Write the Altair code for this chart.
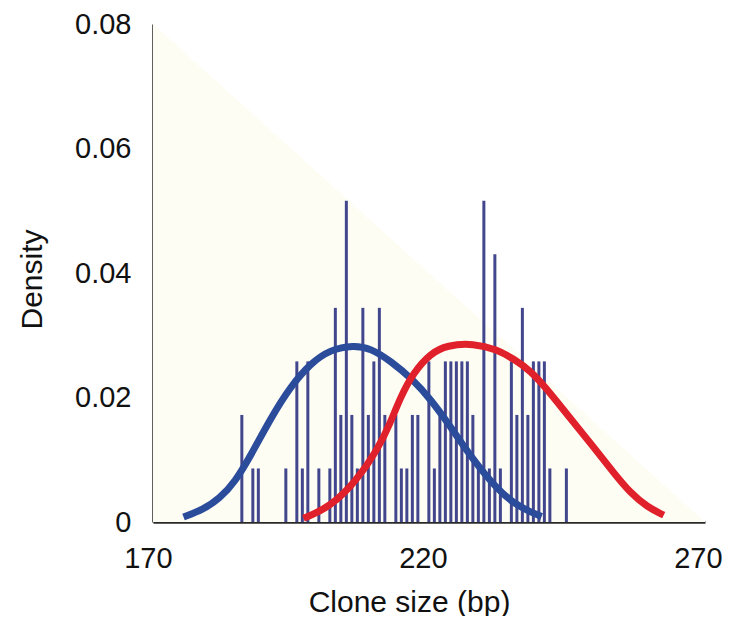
import altair as alt
import pandas as pd

# Histogram bars (clone size in bp, density)
bar_bp = [187, 189, 190, 195, 197, 198, 199, 201, 203, 204, 205, 206, 207, 208,
          209, 210, 211, 212, 213, 215, 216, 217, 218, 219, 221, 222, 223, 224,
          225, 226, 227, 228, 229, 230, 231, 232, 233, 234, 236, 237, 238, 239,
          240, 241, 242, 243, 246]
bar_density = [0.0172, 0.0086, 0.0086, 0.0086, 0.0258, 0.0086, 0.0258, 0.0086,
               0.0086, 0.0344, 0.0172, 0.0516, 0.0172, 0.0086, 0.0344, 0.0172,
               0.0258, 0.0344, 0.0172, 0.0172, 0.0086, 0.0086, 0.0172, 0.0172,
               0.0258, 0.0086, 0.0172, 0.0258, 0.0258, 0.0258, 0.0258, 0.0258,
               0.0172, 0.0086, 0.0516, 0.0086, 0.0430, 0.0086, 0.0258, 0.0172,
               0.0344, 0.0172, 0.0258, 0.0258, 0.0258, 0.0086, 0.0086]

# Blue fitted curve
blue_x = [176.4, 180.0, 183.0, 185.8, 188.5, 192.2, 195.8, 199.5, 203.1, 207.3,
          210.4, 214.0, 218.2, 221.3, 224.4, 227.3, 230.4, 233.5, 236.4, 239.5,
          241.5]
blue_y = [0.0008, 0.0020, 0.0038, 0.0065, 0.0105, 0.0166, 0.0217, 0.0255, 0.0277,
          0.0284, 0.0279, 0.0259, 0.0228, 0.0197, 0.0160, 0.0122, 0.0085, 0.0053,
          0.0030, 0.0016, 0.0009]

# Red fitted curve
red_x = [198.2, 203.1, 207.9, 211.6, 214.0, 215.8, 218.2, 221.3, 224.3, 229.1,
         233.4, 236.4, 239.5, 242.5, 245.5, 248.5, 251.6, 254.6, 257.6, 260.7,
         263.7]
red_y = [0.0006, 0.0024, 0.0067, 0.0115, 0.0159, 0.0200, 0.0240, 0.0271, 0.0284,
         0.0287, 0.0277, 0.0262, 0.0243, 0.0213, 0.0180, 0.0147, 0.0113, 0.0079,
         0.0047, 0.0024, 0.0011]

x_ticks = [170, 220, 270]
y_ticks = [0, 0.02, 0.04, 0.06, 0.08]

bars = pd.DataFrame({"bp": bar_bp, "density": bar_density})
blue = pd.DataFrame({"bp": blue_x, "density": blue_y})
red = pd.DataFrame({"bp": red_x, "density": red_y})
xlab = pd.DataFrame({"bp": x_ticks, "label": [str(v) for v in x_ticks]})

FONT = "Liberation Sans"
W, H = 552, 498

x_scale = alt.Scale(domain=[170.85, 271.2], nice=False, zero=False)
y_scale = alt.Scale(domain=[0, 0.08], nice=False)

x_axis = alt.Axis(
    values=x_ticks, title="Clone size (bp)", grid=False, ticks=False, tickSize=0,
    labels=False,
    titleFontSize=30, titleFont=FONT, titleFontWeight="normal", titleColor="#111",
    titleX=256, titleY=89, titleBaseline="alphabetic",
    domainColor="#2a2a2a", domainWidth=2.5,
)
y_axis = alt.Axis(
    values=y_ticks, title="Density", grid=False, ticks=False, tickSize=0,
    labelPadding=22, labelFontSize=29, labelFont=FONT, labelColor="#111",
    labelExpr="datum.value == 0 ? '0' : format(datum.value, '.2f')",
    labelBound=False, labelFlush=False, labelOverlap=False,
    titleFontSize=30, titleFont=FONT, titleFontWeight="normal", titleColor="#111",
    titleX=-121, titleY=255, titleBaseline="middle",
    domainColor="#2a2a2a", domainWidth=2.5,
)

bg_fill = alt.LinearGradient(
    gradient="linear",
    stops=[
        alt.GradientStop(color="#fdfdf4", offset=0),
        alt.GradientStop(color="#fdfdf4", offset=0.5),
        alt.GradientStop(color="#ffffff", offset=0.5),
        alt.GradientStop(color="#ffffff", offset=1),
    ],
    x1=0, y1=1, x2=1, y2=0,
)

bg_layer = alt.Chart(pd.DataFrame({"k": [0]})).mark_rect(color=bg_fill).encode(
    x=alt.value(0), x2=alt.value(W), y=alt.value(0), y2=alt.value(H),
)

bar_layer = alt.Chart(bars).mark_rule(strokeWidth=3, color="#42478d").encode(
    x=alt.X("bp:Q", scale=x_scale, axis=x_axis),
    y=alt.Y("density:Q", scale=y_scale, axis=y_axis),
    y2=alt.datum(0),
)

blue_layer = alt.Chart(blue).mark_line(
    color="#2b4b9b", strokeWidth=7, interpolate="basis", strokeCap="butt"
).encode(
    x=alt.X("bp:Q", scale=x_scale),
    y=alt.Y("density:Q", scale=y_scale),
)

red_layer = alt.Chart(red).mark_line(
    color="#e0202a", strokeWidth=7, interpolate="basis", strokeCap="butt"
).encode(
    x=alt.X("bp:Q", scale=x_scale),
    y=alt.Y("density:Q", scale=y_scale),
)

xlab_layer = alt.Chart(xlab).mark_text(
    font=FONT, fontSize=29, color="#111", baseline="top", align="center"
).encode(
    x=alt.X("bp:Q", scale=x_scale),
    y=alt.value(H + 23),
    text="label:N",
)

chart = (
    alt.layer(bg_layer, bar_layer, blue_layer, red_layer, xlab_layer)
    .properties(
        width=W, height=H,
        autosize=alt.AutoSizeParams(type="none"),
        padding={"left": 145, "top": 16, "right": 20, "bottom": 94},
        background="white",
    )
    .configure_view(stroke=None)
)

chart.save("out.html", embed_options={"renderer": "svg", "actions": False})
